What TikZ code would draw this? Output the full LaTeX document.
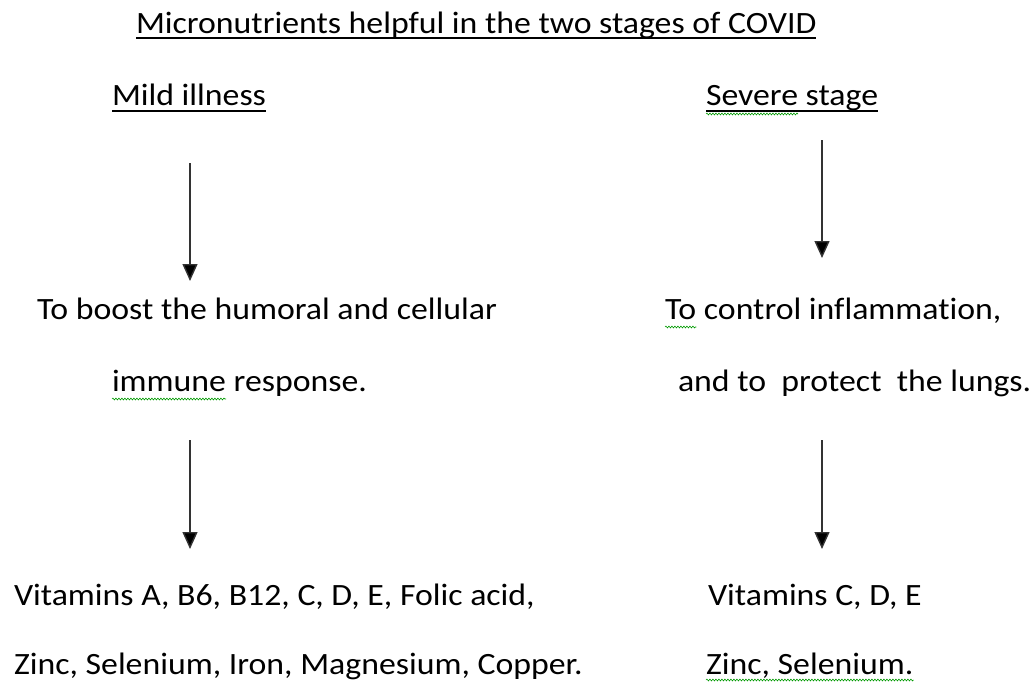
\documentclass[tikz,border=0pt]{standalone}
\usepackage{fontspec}
\setmainfont{Carlito}[FakeStretch=1.09,Ligatures=CommonOff]
\usetikzlibrary{arrows.meta,decorations.pathmorphing}
\tikzset{
  txt/.style={anchor=base west,inner sep=0pt,outer sep=0pt,font=\fontsize{31}{36}\selectfont},
  arr/.style={line width=1.4pt,draw=black!80,-{Triangle[width=15pt,length=17pt,fill=black]}},
  uline/.style={line width=1.6pt},
  squig/.style={draw=green!60!black,line width=0.6pt,decorate,decoration={snake,amplitude=0.9pt,segment length=3pt}}
}
\begin{document}
\begin{tikzpicture}[x=1pt,y=-1pt]
\useasboundingbox (0,0) rectangle (1032,681);
% title
\node[txt] (title) at (136,33) {Micronutrients helpful in the two stages of COVID};
\draw[uline] ([yshift=-5pt]title.base west) -- ([yshift=-5pt]title.base east);
% headings
\node[txt] (mild) at (112,105) {Mild illness\ };
\draw[uline] ([yshift=-6pt]mild.base west) -- ([yshift=-6pt]mild.base east);
\node[txt] (sev) at (706,105) {Severe};
\node[txt] (stage) at (sev.base east) {\ stage};
\draw[uline] ([yshift=-6pt]sev.base west) -- ([yshift=-6pt]stage.base east);
\draw[squig] ([yshift=-9pt]sev.base west) -- ([yshift=-9pt]sev.base east);
% arrow coordinates
\coordinate (a1s) at (190,163); \coordinate (a1e) at (190,281);
\coordinate (a2s) at (822,140); \coordinate (a2e) at (822,258);
\coordinate (a3s) at (190,440); \coordinate (a3e) at (190,549);
\coordinate (a4s) at (822,440); \coordinate (a4e) at (822,549);
\draw[arr] (a1s) -- (a1e);
\draw[arr] (a2s) -- (a2e);
\draw[arr] (a3s) -- (a3e);
\draw[arr] (a4s) -- (a4e);
% middle texts
\node[txt] (boost) at (37,319) {To boost the humoral and cellular};
\node[txt] (imm) at (112,391) {immune};
\node[txt] (resp) at (imm.base east) {\ response.};
\draw[squig] ([yshift=-8pt]imm.base west) -- ([yshift=-8pt]imm.base east);
\node[txt] (to) at (665,319) {To};
\node[txt] (ctrl) at (to.base east) {\ control inflammation,};
\draw[squig] ([yshift=-8pt]to.base west) -- ([yshift=-8pt]to.base east);
\node[txt] (lungs) at (678,391) {and to\ \ protect\ \ the lungs.};
% bottom texts
\node[txt] (vitL) at (14,605) {Vitamins A, B6, B12, C, D, E, Folic acid,};
\node[txt] (minL) at (14,674) {Zinc, Selenium, Iron, Magnesium, Copper.};
\node[txt] (vitR) at (708,605) {Vitamins C, D, E};
\node[txt] (minR) at (706,674) {Zinc, Selenium.};
\draw[squig] ([yshift=-6pt]minR.base west) -- ([yshift=-6pt]minR.base east);
\end{tikzpicture}
\end{document}
